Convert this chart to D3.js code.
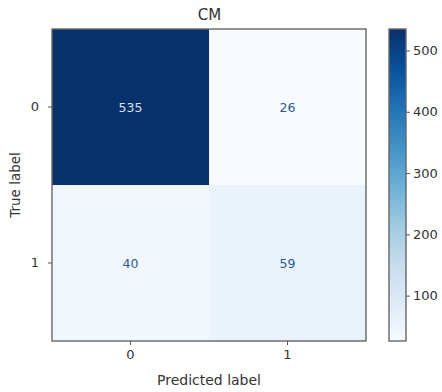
<!DOCTYPE html>
<html><head><meta charset="utf-8">
<script src="https://cdn.jsdelivr.net/npm/d3@7/dist/d3.min.js"></script>
<style>body{margin:0;background:#fff}svg{display:block}text{font-family:"DejaVu Sans",sans-serif;fill:#333}</style>
</head><body><svg id="c" width="442" height="392"></svg>
<script>
const title = "CM";
const trueLabels = ["0", "1"];
const predLabels = ["0", "1"];
const matrix = [[535, 26], [40, 59]];
const cbTicks = [100, 200, 300, 400, 500];
const xTitle = "Predicted label";
const yTitle = "True label";
const bluesStops = ["#f7fbff","#deebf7","#c6dbef","#9ecae1","#6baed6","#4292c6","#2171b5","#08519c","#08306b"];

const svg = d3.select("#c");
const L = 52, R = 366, T = 29, B = 341;
const flat = matrix.flat();
const vmin = d3.min(flat), vmax = d3.max(flat);
const color = d3.scaleLinear()
  .domain(d3.range(bluesStops.length).map(i => vmin + (vmax - vmin) * i / (bluesStops.length - 1)))
  .range(bluesStops).interpolate(d3.interpolateRgb);

const x = d3.scaleBand().domain(predLabels).range([L, R]);
const y = d3.scaleBand().domain(trueLabels).range([T, B]);

const cells = [];
matrix.forEach((row, i) => row.forEach((v, j) => cells.push({i, j, v})));
svg.selectAll("rect.cell").data(cells).enter().append("rect")
  .attr("x", d => x(predLabels[d.j])).attr("y", d => y(trueLabels[d.i]))
  .attr("width", x.bandwidth()).attr("height", y.bandwidth())
  .attr("fill", d => color(d.v));
const thresh = (vmax + vmin) / 2;
svg.selectAll("text.val").data(cells).enter().append("text")
  .attr("x", d => x(predLabels[d.j]) + x.bandwidth() / 2)
  .attr("y", d => y(trueLabels[d.i]) + y.bandwidth() / 2)
  .attr("text-anchor", "middle").attr("dominant-baseline", "central")
  .style("font-size", "12.5px")
  .style("fill", d => d.v > thresh ? "#d6e2f0" : "#2a5a92")
  .text(d => d.v);

const xAxis = svg.append("g").attr("transform", `translate(0,${B})`)
  .call(d3.axisBottom(x).tickSize(4).tickPadding(5));
const yAxis = svg.append("g").attr("transform", `translate(${L},0)`)
  .call(d3.axisLeft(y).tickSize(4).tickPadding(9));
[xAxis, yAxis].forEach(a => {
  a.select(".domain").remove();
  a.selectAll("line").attr("stroke", "#555");
  a.selectAll("text").style("font-size", "13px").style("font-family", "DejaVu Sans").attr("fill", "#444");
});
svg.append("rect").attr("x", L).attr("y", T).attr("width", R - L).attr("height", B - T)
  .attr("fill", "none").attr("stroke", "#666").attr("stroke-width", 1.4);

svg.append("text").attr("x", (L + R) / 2 + 0.5).attr("y", 20).attr("text-anchor", "middle")
  .style("font-size", "15px").attr("fill", "#444").text(title);
svg.append("text").attr("x", (L + R) / 2).attr("y", 385).attr("text-anchor", "middle")
  .style("font-size", "14px").attr("fill", "#444").text(xTitle);
svg.append("text").attr("transform", `translate(20,${(T + B) / 2}) rotate(-90)`).attr("text-anchor", "middle")
  .style("font-size", "13.5px").attr("fill", "#444").text(yTitle);

// colorbar
const cbX = 389, cbW = 17;
const cy = d3.scaleLinear().domain([vmin, vmax]).range([B, T]);
const defs = svg.append("defs");
const grad = defs.append("linearGradient").attr("id", "g").attr("x1", 0).attr("y1", 1).attr("x2", 0).attr("y2", 0);
bluesStops.forEach((c, i) => grad.append("stop").attr("offset", i / (bluesStops.length - 1)).attr("stop-color", c));
svg.append("rect").attr("x", cbX).attr("y", T).attr("width", cbW).attr("height", B - T).attr("fill", "url(#g)");
const cAxis = svg.append("g").attr("transform", `translate(${cbX + cbW},0)`)
  .call(d3.axisRight(cy).tickValues(cbTicks).tickSize(4).tickPadding(3));
cAxis.select(".domain").remove();
cAxis.selectAll("line").attr("stroke", "#555");
cAxis.selectAll("text").style("font-size", "13px").style("font-family", "DejaVu Sans").attr("fill", "#444");
svg.append("rect").attr("x", cbX).attr("y", T).attr("width", cbW).attr("height", B - T)
  .attr("fill", "none").attr("stroke", "#666").attr("stroke-width", 1.4);
</script></body></html>
